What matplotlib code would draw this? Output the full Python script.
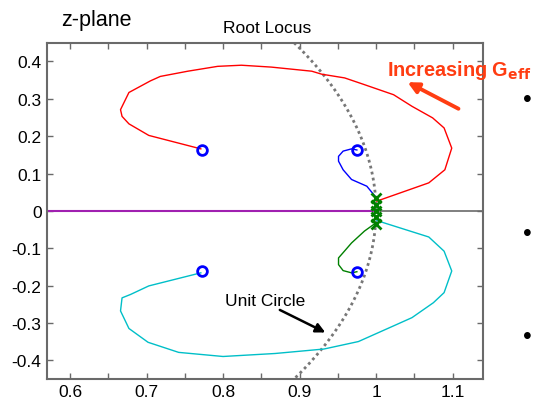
import numpy as np
import matplotlib
matplotlib.use('Agg')
import matplotlib.pyplot as plt

plt.rcParams['font.family'] = ['Liberation Sans', 'DejaVu Sans']

# branch coordinates
red_x = [1.001, 1.069, 1.090, 1.099, 1.089, 1.074, 1.047, 1.023, 0.982, 0.959, 0.929, 0.916,
         0.863, 0.824, 0.793, 0.754, 0.718, 0.705, 0.677, 0.666, 0.668, 0.677, 0.703, 0.771]
red_y = [0.026, 0.075, 0.110, 0.168, 0.222, 0.249, 0.280, 0.311, 0.340, 0.356, 0.366, 0.374,
         0.385, 0.390, 0.387, 0.374, 0.360, 0.348, 0.317, 0.271, 0.253, 0.233, 0.202, 0.166]

cyan_x = [1.001, 1.069, 1.089, 1.099, 1.089, 1.075, 1.047, 1.023, 0.977, 0.932, 0.868,
          0.800, 0.742, 0.702, 0.677, 0.666, 0.668, 0.679, 0.703, 0.771]
cyan_y = [-0.026, -0.070, -0.108, -0.161, -0.219, -0.246, -0.286, -0.308, -0.350, -0.370, -0.382,
          -0.390, -0.379, -0.352, -0.315, -0.268, -0.233, -0.224, -0.201, -0.166]

blue_x = [1.000, 0.988, 0.968, 0.957, 0.951, 0.951, 0.957, 0.968, 0.975]
blue_y = [0.036, 0.066, 0.084, 0.110, 0.133, 0.146, 0.160, 0.166, 0.163]

green_x = [1.000, 0.985, 0.968, 0.957, 0.951, 0.951, 0.957, 0.968, 0.975]
green_y = [-0.032, -0.054, -0.086, -0.112, -0.126, -0.144, -0.160, -0.166, -0.163]

pole_x = [1.0, 1.0, 1.0, 1.0, 1.0]
pole_y = [0.034, 0.017, 0.0, -0.017, -0.034]

zero_x = [0.773, 0.773, 0.975, 0.975]
zero_y = [0.162, -0.162, 0.163, -0.163]

xticks = [0.6, 0.7, 0.8, 0.9, 1.0, 1.1]
xticklabels = ['0.6', '0.7', '0.8', '0.9', '1', '1.1']
yticks = [0.4, 0.3, 0.2, 0.1, 0, -0.1, -0.2, -0.3, -0.4]
yticklabels = ['0.4', '0.3', '0.2', '0.1', '0', '-0.1', '-0.2', '-0.3', '-0.4']

fig = plt.figure(figsize=(5.35, 4.02), dpi=100)
ax = fig.add_axes([0.088, 0.055, 0.815, 0.836])

gray = '#6a6a6a'
ax.axhline(0, color=gray, lw=1.2, zorder=1)
ax.plot([0.57, 1.0], [0, 0], color='#a020b0', lw=1.5, zorder=2)

th = np.linspace(0, 2 * np.pi, 721)
ax.plot(np.cos(th), np.sin(th), color='#777777', lw=2, ls=(0, (1, 1.2)), zorder=2)

ax.plot(red_x, red_y, color='red', lw=1, zorder=3)
ax.plot(cyan_x, cyan_y, color='#00bfc8', lw=1, zorder=3)
ax.plot(blue_x, blue_y, color='blue', lw=1, zorder=3)
ax.plot(green_x, green_y, color='green', lw=1, zorder=3)

ax.plot(pole_x, pole_y, 'x', color='green', ms=6.5, mew=2, zorder=4)
ax.plot(zero_x, zero_y, 'o', mfc='none', mec='blue', ms=7, mew=2, zorder=4)

ax.set_xlim(0.57, 1.14)
ax.set_ylim(-0.45, 0.45)
ax.set_xticks(xticks)
ax.set_xticklabels(xticklabels)
ax.set_xticks(np.arange(0.65, 1.14, 0.1), minor=True)
ax.set_yticks(yticks)
ax.set_yticklabels(yticklabels)
ax.tick_params(which='both', direction='in', top=True, right=True, length=4,
               width=1, color=gray, labelsize=12.5, pad=4)
for s in ax.spines.values():
    s.set_color(gray)
    s.set_linewidth(1.5)

fig.text(0.115, 0.935, 'z-plane', fontsize=15.5, ha='left', va='baseline')
fig.text(0.50, 0.917, 'Root Locus', fontsize=12.5, ha='center', va='baseline')

ax.annotate('', xy=(0.937, -0.329), xytext=(0.871, -0.262),
            arrowprops=dict(arrowstyle='-|>', color='black', lw=1.8, mutation_scale=14))
ax.text(0.855, -0.252, 'Unit Circle', fontsize=12.5, ha='center', va='baseline')

orange = '#ff3d12'
ax.annotate('', xy=(1.038, 0.348), xytext=(1.111, 0.270),
            arrowprops=dict(arrowstyle='-|>', color=orange, lw=2.8, mutation_scale=16),
            annotation_clip=False)
fig.text(0.724, 0.812, r'Increasing G$_{\mathbf{eff}}$', fontsize=14.3, fontweight='bold',
         color=orange, ha='left', va='baseline')

for yb in [0.751, 0.418, 0.162]:
    fig.text(0.985, yb, '\u2022', fontsize=18, ha='center', va='center')

fig.savefig('out.png', dpi=100)
